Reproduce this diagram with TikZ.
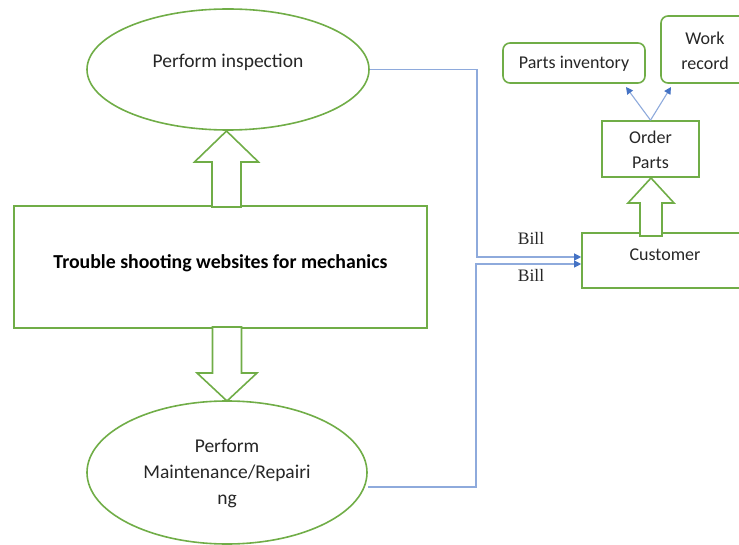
\documentclass[tikz,border=0pt]{standalone}
\usepackage{fontspec}
\setmainfont{Carlito}
\newfontfamily\billfont{Liberation Serif}
\usetikzlibrary{shapes.geometric,arrows.meta,calc}
\definecolor{grn}{HTML}{70AD47}
\definecolor{lblue}{HTML}{8EAADC}
\definecolor{dblue}{HTML}{4472C4}
\definecolor{txt}{HTML}{262626}
\tikzset{
  gline/.style={draw=grn,line width=1.6pt},
  oval/.style={gline,ellipse,inner sep=0pt},
  box/.style={gline,rectangle,inner sep=0pt},
  rbox/.style={gline,rectangle,rounded corners=7pt,inner sep=0pt},
  lbl/.style={text=txt,align=center,inner sep=0pt,font=\fontsize{19.5}{26}\selectfont},
  slbl/.style={text=txt,align=center,inner sep=0pt,font=\fontsize{18}{25}\selectfont},
  blockarrow/.style={gline,fill=white,line join=miter},
  conn/.style={draw=lblue,line width=1.1pt,-{Triangle[length=7pt,width=7pt,color=dblue]}},
  bill/.style={inner sep=0pt,text=txt,font=\billfont\fontsize{17.5}{19}\selectfont}
}
\begin{document}
\begin{tikzpicture}[x=1pt,y=-1pt]
\useasboundingbox (0,0) rectangle (739,545);
\clip (0,0) rectangle (739,545);
% main nodes
\node[oval,minimum width=282pt,minimum height=121pt] (insp) at (228,69.5) {};
\node[lbl] (insptxt) at (228,62) {Perform inspection};
\node[box,minimum width=413pt,minimum height=122pt] (main) at (220.5,267) {};
\node[text=black,inner sep=0pt,font=\bfseries\fontsize{19.8}{22}\selectfont] (maintxt) at (220.5,263) {Trouble shooting websites for mechanics};
\node[oval,minimum width=280pt,minimum height=143pt] (maint) at (227,472.5) {};
\node[lbl] (mainttxt) at (227,473) {Perform\\Maintenance/Repairi\\ng};
\node[box,minimum width=166pt,minimum height=55pt] (cust) at (665,260.5) {};
\node[slbl] (custtxt) at (665,255) {Customer};
\node[box,minimum width=97pt,minimum height=56pt] (order) at (650.5,149) {};
\node[slbl] (ordertxt) at (650.5,150) {Order\\Parts};
\node[rbox,minimum width=142pt,minimum height=40pt] (inv) at (574,63) {};
\node[slbl] (invtxt) at (574,64) {Parts inventory};
\node[rbox,minimum width=88pt,minimum height=67pt] (work) at (705,49.5) {};
\node[slbl] (worktxt) at (705,51) {Work\\record};
% block arrows
\draw[blockarrow] (212,207) -- (212,162) -- (194.5,162) -- (226.5,131) -- (258.5,162) -- (241,162) -- (241,207) -- cycle;
\draw[blockarrow] (212.5,327) -- (212.5,373) -- (197,373) -- (227,401) -- (257,373) -- (241.5,373) -- (241.5,327) -- cycle;
\draw[blockarrow] (640,236) -- (640,203) -- (628,203) -- (651,178) -- (674,203) -- (662,203) -- (662,236) -- cycle;
% connectors
\draw[conn] (insp.east) -- (477,69.5) |- ([yshift=3.5pt]cust.west);
\draw[conn] (maint.east |- 0,487) -- (476,487) |- ([yshift=-3.5pt]cust.west);
\node[bill] (bill1) at (531,238) {Bill};
\node[bill] (bill2) at (531,275) {Bill};
\draw[conn] (order.north) -- (626,87);
\draw[conn] (order.north) -- (671,87);
\end{tikzpicture}
\end{document}
